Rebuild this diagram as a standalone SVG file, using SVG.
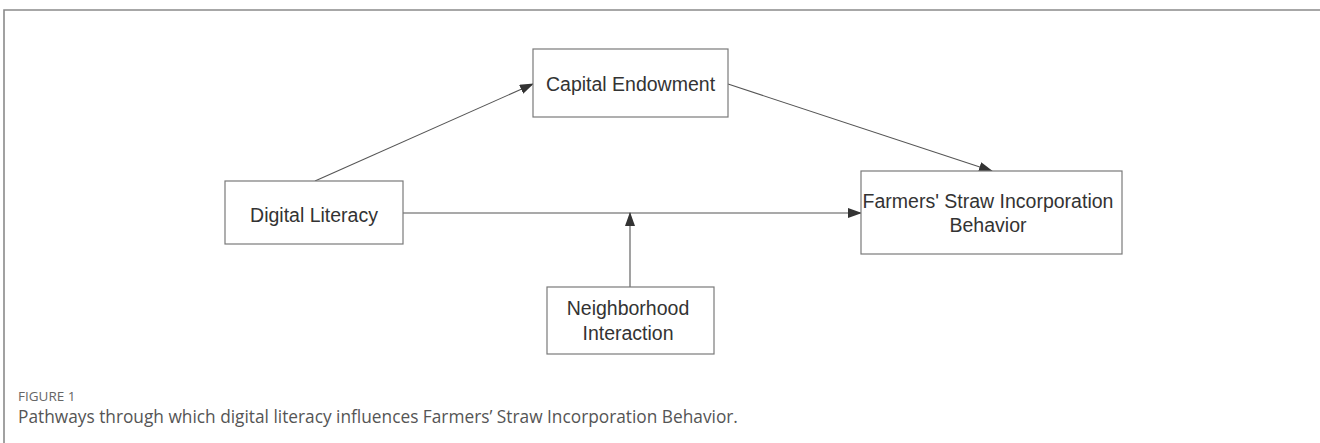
<svg xmlns="http://www.w3.org/2000/svg" width="1320" height="443" viewBox="0 0 1320 443">
<defs>
<style>
.box{fill:#fff;stroke:#7a7a7a;stroke-width:1.2}
.lbl{font-family:"Liberation Sans",Arial,sans-serif;font-size:19.5px;fill:#333;text-anchor:middle}
.conn{stroke:#555;stroke-width:1.1;fill:none}
.frame{stroke:#8a8a8a;stroke-width:1.6;fill:none}
.fig{font-family:"Open Sans",Lato,sans-serif;font-size:13.5px;fill:#666}
.cap{font-family:"Open Sans",Lato,sans-serif;font-size:17.3px;fill:#555}
</style>
<marker id="arr" markerWidth="14" markerHeight="10" refX="13" refY="5" orient="auto" markerUnits="userSpaceOnUse">
<path d="M0,0 L14,5 L0,10 z" fill="#333"/>
</marker>
</defs>
<rect width="1320" height="443" fill="#fff"/>
<path class="frame" d="M4,443 V10 H1320"/>
<g id="connectors">
<path class="conn" d="M315,181 L533,84" marker-end="url(#arr)"/>
<path class="conn" d="M728,84 L992,171" marker-end="url(#arr)"/>
<path class="conn" d="M403,213 L861,213" marker-end="url(#arr)"/>
<path class="conn" d="M630,287 L630,213" marker-end="url(#arr)"/>
</g>
<g id="capital-endowment">
<rect class="box" x="533" y="49" width="195" height="68"/>
<text class="lbl" x="630.5" y="91">Capital Endowment</text>
</g>
<g id="digital-literacy">
<rect class="box" x="225" y="181" width="178" height="63"/>
<text class="lbl" x="314" y="222">Digital Literacy</text>
</g>
<g id="farmers-behavior">
<rect class="box" x="861" y="171" width="261" height="83"/>
<text class="lbl" x="988" y="208">Farmers' Straw Incorporation</text>
<text class="lbl" x="988" y="232">Behavior</text>
</g>
<g id="neighborhood-interaction">
<rect class="box" x="547" y="287" width="167" height="67"/>
<text class="lbl" x="628" y="315">Neighborhood</text>
<text class="lbl" x="628" y="340">Interaction</text>
</g>
<g id="caption">
<text class="fig" x="18" y="401">FIGURE 1</text>
<text class="cap" x="18" y="423">Pathways through which digital literacy influences Farmers’ Straw Incorporation Behavior.</text>
</g>
</svg>
